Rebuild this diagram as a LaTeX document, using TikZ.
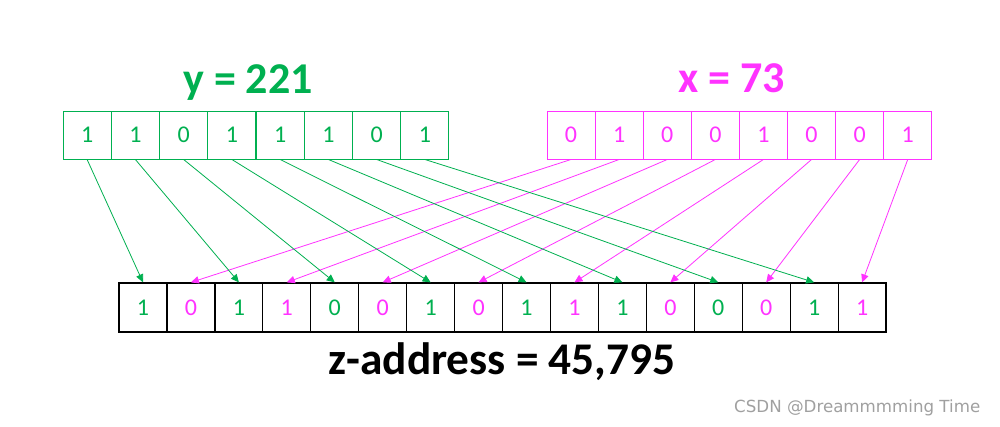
\documentclass[tikz,border=0pt]{standalone}
\usepackage{fontspec}
\setmainfont{Carlito}
\newfontfamily\wmfont{DejaVu Sans}
\usetikzlibrary{arrows.meta}
\definecolor{zg}{RGB}{0,176,80}
\definecolor{zm}{RGB}{255,51,255}
\definecolor{wmgray}{RGB}{160,160,160}
\begin{document}
\begin{tikzpicture}[x=0.75pt,y=-0.75pt,
  bit/.style={draw, minimum width=36.1pt, minimum height=36pt, inner sep=0pt, font=\fontsize{18}{18}\selectfont},
  ybit/.style={bit, draw=zg, text=zg, line width=0.7pt},
  xbit/.style={bit, draw=zm, text=zm, line width=0.7pt},
  zbit/.style={bit, draw=black, line width=0.95pt, minimum width=35.95pt, minimum height=36.75pt},
  garrow/.style={draw=zg, line width=0.6pt, -{Triangle[length=6pt,width=5.5pt]}},
  marrow/.style={draw=zm, line width=0.6pt, -{Triangle[length=6pt,width=5.5pt]}},
  title/.style={anchor=base, font=\bfseries\fontsize{33}{33}\selectfont}
]
\useasboundingbox[fill=white] (0,0) rectangle (1000,427);
\foreach \b [count=\i from 0] in {1,1,0,1,1,1,0,1}
  \node[ybit] (y\i) at ({87.1+48.25*\i},135) {\b};
\foreach \b [count=\i from 0] in {0,1,0,0,1,0,0,1}
  \node[xbit] (x\i) at ({571.05+48.1*\i},135) {\b};
\foreach \b/\c [count=\j from 0] in {1/zg,0/zm,1/zg,1/zm,0/zg,0/zm,1/zg,0/zm,1/zg,1/zm,1/zg,0/zm,0/zg,0/zm,1/zg,1/zm}
  \node[zbit, text=\c] (z\j) at ({143+47.94*\j},307.5) {\b};
\foreach \i in {0,...,7}{
  \pgfmathtruncatemacro\ja{2*\i}
  \pgfmathtruncatemacro\jb{2*\i+1}
  \draw[garrow] (y\i.south) -- (z\ja.north);
  \draw[marrow] (x\i.south) -- (z\jb.north);
}
\node[title, text=zg] (ty) at (248,94) {y = 221};
\node[title, text=zm] (tx) at (732,93) {x = 73};
\node[anchor=base, font=\bfseries\fontsize{34}{34}\selectfont] (tz) at (502,375) {z-address = 45,795};
\node[anchor=base east, text=wmgray, font=\wmfont\fontsize{12.5}{12.5}\selectfont] (wm) at (985,413) {CSDN @Dreammmming Time};
\end{tikzpicture}
\end{document}
